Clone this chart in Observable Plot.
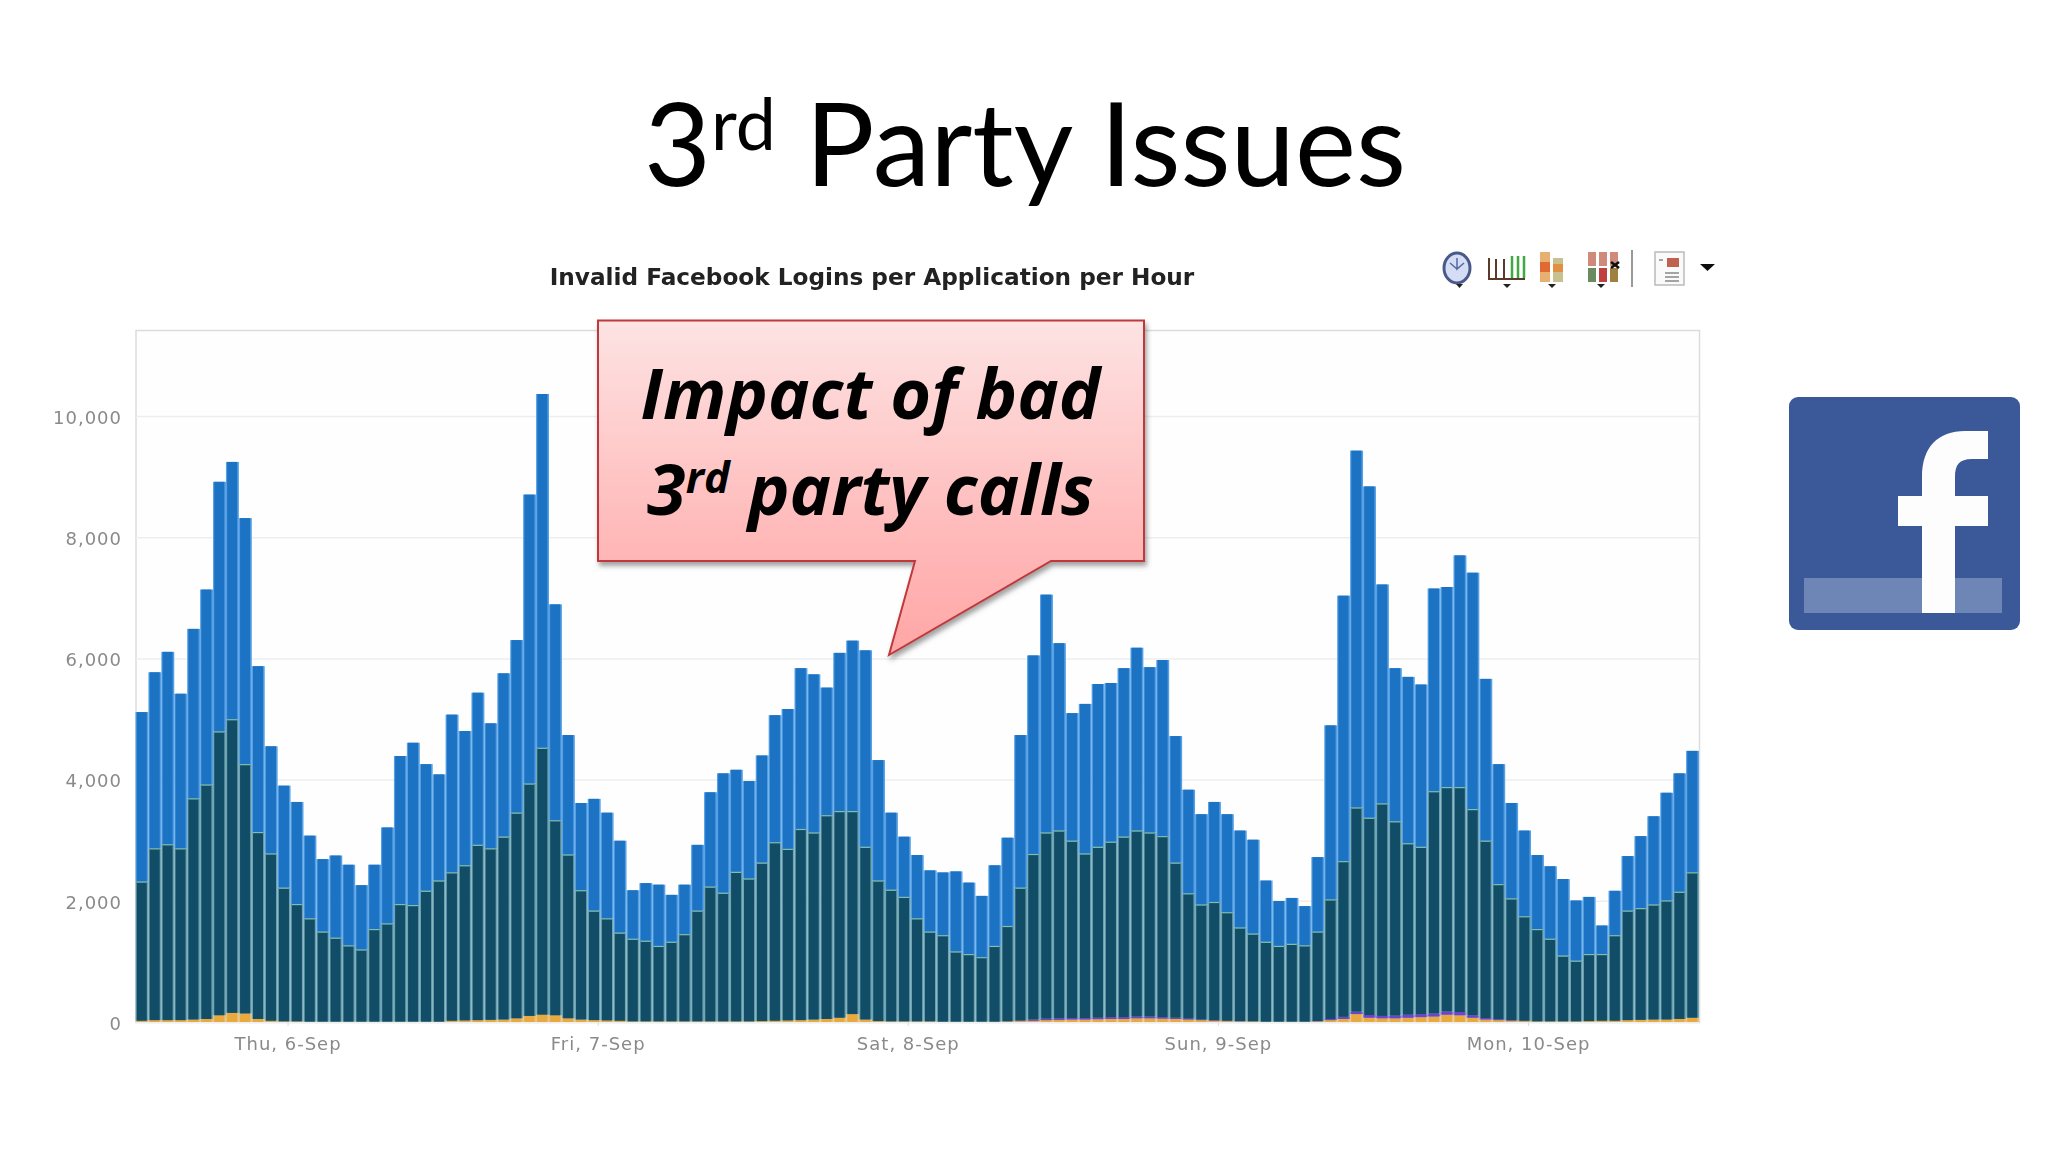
<!DOCTYPE html>
<html><head><meta charset="utf-8">
<script src="https://cdn.jsdelivr.net/npm/d3@7"></script>
<script src="https://cdn.jsdelivr.net/npm/@observablehq/plot@0.6"></script>
<style>
html,body{margin:0;padding:0;background:#fff;width:2048px;height:1152px;overflow:hidden}
#stage{position:relative;width:2048px;height:1152px}
#chart{position:absolute;left:0;top:0}
#chart svg{filter:blur(.6px)}
#chart svg g[aria-label$="tick label"] text{letter-spacing:1px}
.t{position:absolute;white-space:nowrap;color:#000}
sup{font-size:.62em;line-height:0;vertical-align:baseline;position:relative;top:-.5em}
#title{left:0;width:2050px;text-align:center;top:73px;font:400 115.5px/1.2 Lato,sans-serif;}
#sub{left:0;width:1744px;text-align:center;top:263px;font:700 23.2px/1.2 "DejaVu Sans",sans-serif;color:#222;filter:blur(.5px)}
.call{left:597px;width:547px;text-align:center;font:italic 700 70px/1.2 "Open Sans",sans-serif}
svg.o{position:absolute;left:0;top:0}
</style></head><body>
<div id="stage">
<div id="chart"></div>
<svg class="o" width="2048" height="1152" viewBox="0 0 2048 1152">
<defs>
<linearGradient id="pink" x1="0" y1="0" x2="0" y2="1"><stop offset="0" stop-color="#fde3e3"/><stop offset=".6" stop-color="#ffbcbc"/><stop offset="1" stop-color="#ffa6a6"/></linearGradient>
<filter id="sh" x="-10%" y="-10%" width="120%" height="120%"><feDropShadow dx="2" dy="4" stdDeviation="2.5" flood-color="#555" flood-opacity=".55"/></filter>
<filter id="soft"><feGaussianBlur stdDeviation=".6"/></filter>
</defs>
<path d="M598 320.5H1144V561H1051L889 655L915 561H598Z" fill="url(#pink)" stroke="#c0393b" stroke-width="2" filter="url(#sh)"/>
<g id="logo" transform="translate(-11,-2)">
<rect x="1800" y="399" width="231" height="233" rx="9" fill="#3b5998"/>
<rect x="1815" y="580" width="198" height="35" fill="#6d86b6"/>
<path transform="translate(-2,1)" d="M1935 614V527H1911V497H1935V478C1935 448 1951 432 1978 432H2001V460H1985C1972 460 1968 466 1968 478V497H2001V527H1968V614Z" fill="#fdfdfd"/>
</g>
<g id="tools" filter="url(#soft)" transform="translate(-8,0)">
<ellipse cx="1465" cy="268" rx="13" ry="15" fill="#d5dcf5" stroke="#4a5a88" stroke-width="3"/>
<path d="M1465 258V269L1472 263M1465 269L1458 263" stroke="#5568a0" stroke-width="1.5" fill="none"/>
<path d="M1497 258V279H1533M1504 259V278M1512 259V278" stroke="#5a3a2a" stroke-width="2" fill="none"/>
<path d="M1520 256V278M1526 256V278M1532 256V278" stroke="#3fa83f" stroke-width="2.5"/>
<path d="M1511 284h8l-4 4Z M1556 284h8l-4 4Z M1464 284h7l-3.500 4Z M1605 284h8l-4 4Z" fill="#222"/>
<rect x="1548" y="252" width="10" height="30" fill="#e8b070"/>
<rect x="1548" y="262" width="10" height="10" fill="#e06a30"/>
<rect x="1561" y="258" width="10" height="24" fill="#c8c090"/>
<rect x="1561" y="264" width="10" height="8" fill="#e09040"/>
<g fill="#d08a7a"><rect x="1596" y="252" width="8" height="14"/><rect x="1607" y="252" width="8" height="14"/><rect x="1618" y="252" width="8" height="14"/></g>
<g fill="#6b8a60"><rect x="1596" y="268" width="8" height="14"/></g><rect x="1607" y="268" width="8" height="14" fill="#c04040"/><rect x="1618" y="268" width="8" height="14" fill="#a08040"/>
<path d="M1619 262l8 6M1627 262l-8 6" stroke="#111" stroke-width="2.500"/>
<path d="M1640 250V287" stroke="#777" stroke-width="1.5"/>
<rect x="1663" y="252" width="29" height="33" fill="#fafafa" stroke="#bbb" stroke-width="1.5"/>
<rect x="1675" y="258" width="12" height="9" fill="#c06050"/>
<path d="M1667 260h4M1673 273h14M1673 277h14M1673 281h14" stroke="#888" stroke-width="1.500"/>
<path d="M1708 264h15l-7.500 7Z" fill="#111"/>
</g>
</svg>
<div class="t" id="title">3<sup>rd</sup> Party Issues</div>
<div class="t" id="sub">Invalid Facebook Logins per Application per Hour</div>
<div class="t call" style="top:350px">Impact of bad</div>
<div class="t call" style="top:446px">3<sup>rd</sup> party calls</div>
</div>
<script>
const totals = [5114,5771,6108,5417,6487,7136,8914,9242,8315,5872,4550,3900,3631,3075,2688,2747,2595,2258,2595,3210,4389,4608,4255,4086,5072,4802,5434,4929,5754,6302,8703,10363,6892,4735,3614,3682,3454,2991,2174,2292,2266,2098,2266,2923,3791,4103,4162,3977,4398,5063,5165,5839,5737,5518,6091,6293,6133,4322,3454,3058,2755,2502,2468,2485,2300,2081,2586,3041,4735,6049,7052,6251,5097,5249,5577,5594,5839,6176,5855,5973,4718,3833,3429,3631,3429,3159,3008,2334,1997,2047,1912,2721,4895,7035,9428,8838,7220,5839,5695,5569,7153,7178,7700,7414,5662,4255,3614,3159,2755,2570,2359,2005,2064,1592,2165,2738,3067,3395,3783,4103,4474];
const darkTops = [2317,2865,2932,2865,3690,3918,4794,4996,4255,3134,2780,2216,1946,1710,1491,1390,1264,1196,1533,1626,1946,1929,2165,2334,2469,2586,2923,2865,3058,3454,3934,4524,3328,2763,2174,1837,1710,1474,1373,1340,1255,1323,1449,1837,2233,2132,2477,2367,2629,2966,2856,3185,3126,3412,3480,3480,2890,2334,2182,2064,1710,1491,1432,1163,1120,1070,1255,1584,2216,2772,3126,3159,2991,2780,2890,2974,3058,3159,3126,3067,2629,2123,1938,1980,1811,1559,1458,1323,1255,1289,1264,1491,2022,2654,3539,3370,3606,3311,2949,2890,3808,3876,3876,3513,2991,2275,2039,1744,1533,1373,1095,1011,1121,1121,1432,1837,1879,1938,2005,2148,2469];
const orange = [20,30,30,30,40,50,110,150,140,50,20,10,10,5,5,5,5,5,5,5,5,5,5,5,20,25,30,35,40,60,100,120,110,60,40,30,25,20,10,10,10,10,10,10,10,10,10,10,15,20,25,30,40,50,70,130,40,15,10,10,10,10,5,5,5,5,5,10,15,20,30,35,40,40,45,50,50,60,60,55,50,40,30,20,15,10,10,5,5,5,5,10,30,50,130,70,60,60,70,80,90,120,110,70,40,30,20,15,10,10,10,10,15,20,20,30,35,40,40,50,70];
const purple = [0,0,0,0,0,0,0,0,0,0,0,0,0,0,0,0,0,0,0,0,0,0,0,0,0,0,0,0,0,0,0,0,0,0,0,0,0,0,0,0,0,0,0,0,0,0,0,0,0,0,0,0,0,0,0,0,0,0,0,0,0,0,0,0,0,0,0,0,10,20,25,25,25,25,25,30,30,30,30,25,20,15,10,10,5,5,0,0,0,0,0,5,20,35,40,45,40,45,50,50,50,55,55,40,25,15,10,5,0,0,0,0,0,0,0,0,0,0,0,0,0];
const dayDates = [6,7,8,9,10].map(d => new Date(Date.UTC(2012,8,d)));
const dayLabels = ["Thu, 6-Sep","Fri, 7-Sep","Sat, 8-Sep","Sun, 9-Sep","Mon, 10-Sep"];
const yTicks = [0,2000,4000,6000,8000,10000];
const start = Date.UTC(2012,8,5,12);
const hour = 3600e3;

const body = {orange:"#e8a93f", purple:"#6a45cf", teal:"#124d68", blue:"#1c72c3"};
const edge = {orange:"#e8c27a", purple:"#8a70d8", teal:"#6ea4b2", blue:"#55a0e4"};
const table = [];
totals.forEach((tot,i) => {
  const t = new Date(start + i*hour);
  table.push({t, series:"orange", v:orange[i]});
  table.push({t, series:"purple", v:purple[i]});
  table.push({t, series:"teal", v:darkTops[i]-orange[i]-purple[i]});
  table.push({t, series:"blue", v:tot-darkTops[i]});
});
const tops = darkTops.map((v,i)=>({t:new Date(start+i*hour), v}));

const chart = Plot.plot({
  width:2048, height:1152,
  marginLeft:135.5, marginRight:349, marginTop:330, marginBottom:130,
  style:{background:"transparent", fontFamily:"DejaVu Sans"},
  x:{type:"utc", domain:[new Date(start), new Date(start+121*hour)]},
  y:{domain:[0,11419]},
  marks:[
    Plot.frame({stroke:"#dcdcdc", strokeWidth:1.500, fill:"#fefefe"}),
    Plot.gridY(yTicks,{stroke:"#eeeeee", strokeOpacity:1, strokeWidth:1.5}),
    Plot.rectY(table,{x:"t", interval:d3.utcHour, y:"v", order:null, fill:d=>edge[d.series], inset:0}),
    Plot.rectY(table,{x:"t", interval:d3.utcHour, y:"v", order:null, fill:d=>body[d.series], insetLeft:1.2, insetRight:1.6}),
    Plot.ruleY(tops,{x1:"t", x2:d=>new Date(+d.t+hour), y:"v", stroke:"#7fc0b0", strokeWidth:1.2, insetLeft:1.2, insetRight:1.6}),
    Plot.axisY({ticks:yTicks, tickSize:0, tickPadding:14, dy:1.5, tickFormat:d3.format(","), label:null, fontSize:18, fill:"#8a8a8a"}),
    Plot.axisX({ticks:dayDates, tickSize:4, stroke:"#ddd", tickPadding:11, dx:-3, tickFormat:d=>dayLabels[dayDates.findIndex(x=>+x===+d)], label:null, fontSize:18, fill:"#8a8a8a"})
  ]
});
document.getElementById("chart").append(chart);
</script>
</body></html>
